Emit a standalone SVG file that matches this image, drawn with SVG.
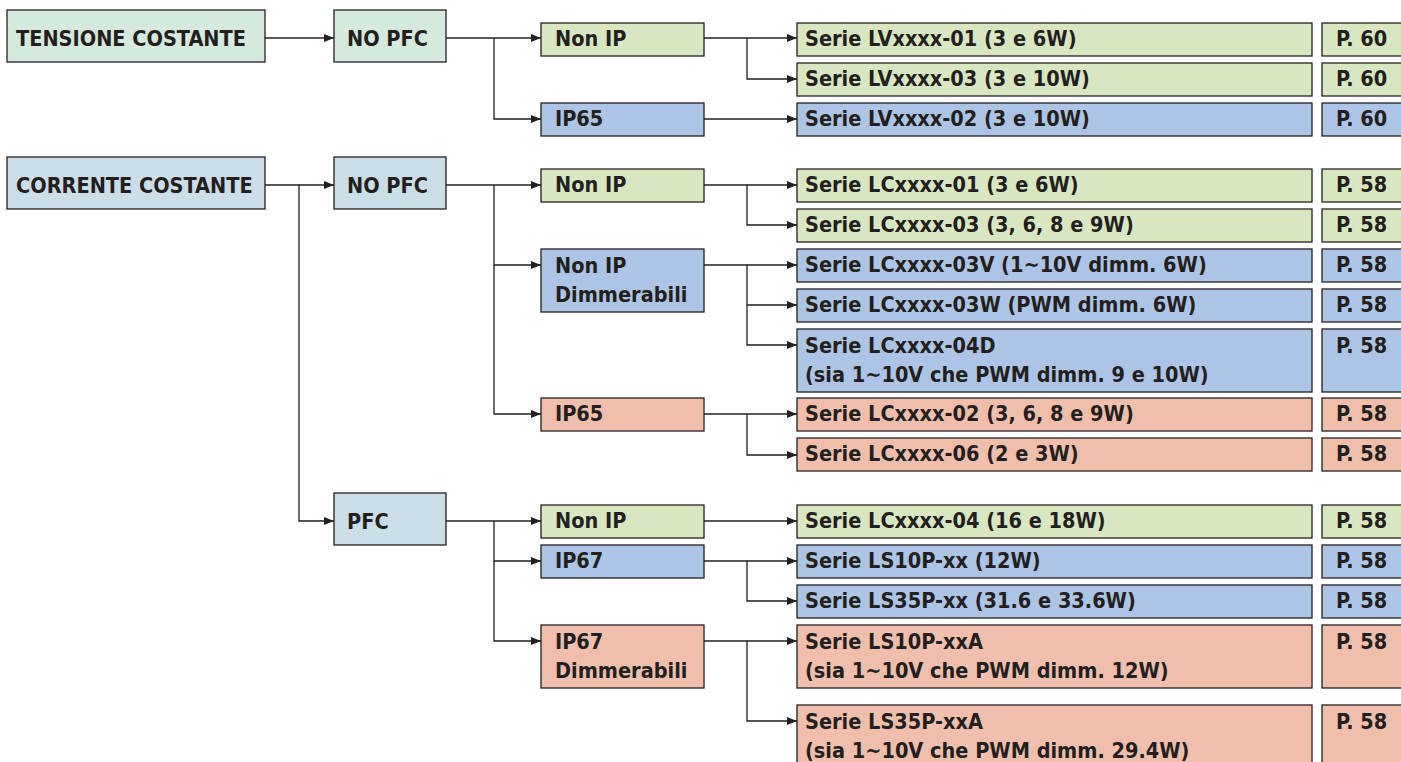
<svg xmlns="http://www.w3.org/2000/svg" width="1401" height="762" viewBox="0 0 1401 762">
<style>
text{font-family:'DejaVu Sans Condensed','DejaVu Sans',sans-serif;font-stretch:condensed;font-weight:bold;font-size:21.5px;fill:#231f20}
.n rect{stroke:#231f20;stroke-width:1.3}
.mint{fill:#d5eadc}.gray{fill:#cbdde6}.grn{fill:#d9e7c0}.blu{fill:#adc5e5}.sal{fill:#f0bfab}
.c path{fill:none;stroke:#231f20;stroke-width:1.3}
</style>
<defs><marker id="ah" viewBox="0 0 10 8" refX="10" refY="4" markerWidth="10" markerHeight="8" markerUnits="userSpaceOnUse" orient="auto" preserveAspectRatio="none"><path d="M0,0 L10,4 L0,8 Z" fill="#231f20"/></marker></defs>
<rect width="1401" height="762" fill="#fff"/>
<g class="c" id="connectors">
<path d="M265,38 H334" marker-end="url(#ah)"/>
<path d="M446,38 H541" marker-end="url(#ah)"/>
<path d="M494,38 V119 H541" marker-end="url(#ah)"/>
<path d="M704,38 H797" marker-end="url(#ah)"/>
<path d="M747,38 V79 H797" marker-end="url(#ah)"/>
<path d="M704,119 H797" marker-end="url(#ah)"/>
<path d="M265,185 H334" marker-end="url(#ah)"/>
<path d="M299,185 V521 H334" marker-end="url(#ah)"/>
<path d="M446,185 H541" marker-end="url(#ah)"/>
<path d="M494,185 V265 H541" marker-end="url(#ah)"/>
<path d="M494,265 V414 H541" marker-end="url(#ah)"/>
<path d="M704,185 H797" marker-end="url(#ah)"/>
<path d="M747,185 V225 H797" marker-end="url(#ah)"/>
<path d="M704,265 H797" marker-end="url(#ah)"/>
<path d="M747,265 V305 H797" marker-end="url(#ah)"/>
<path d="M747,305 V345 H797" marker-end="url(#ah)"/>
<path d="M704,414 H797" marker-end="url(#ah)"/>
<path d="M747,414 V455 H797" marker-end="url(#ah)"/>
<path d="M446,521 H541" marker-end="url(#ah)"/>
<path d="M494,521 V561 H541" marker-end="url(#ah)"/>
<path d="M494,561 V641 H541" marker-end="url(#ah)"/>
<path d="M704,521 H797" marker-end="url(#ah)"/>
<path d="M704,561 H797" marker-end="url(#ah)"/>
<path d="M747,561 V601 H797" marker-end="url(#ah)"/>
<path d="M704,641 H797" marker-end="url(#ah)"/>
<path d="M747,641 V721 H797" marker-end="url(#ah)"/>
</g>
<g class="n" id="tensione"><rect class="mint" x="7" y="10" width="258" height="52"/><text x="16" y="46">TENSIONE COSTANTE</text></g>
<g class="n" id="nopfc1"><rect class="mint" x="334" y="10" width="112" height="52"/><text x="347" y="46">NO PFC</text></g>
<g class="n" id="corrente"><rect class="gray" x="7" y="157" width="258" height="52"/><text x="16" y="193">CORRENTE COSTANTE</text></g>
<g class="n" id="nopfc2"><rect class="gray" x="334" y="157" width="112" height="52"/><text x="347" y="193">NO PFC</text></g>
<g class="n" id="pfc"><rect class="gray" x="334" y="493" width="112" height="52"/><text x="347" y="529">PFC</text></g>

<g class="n" id="nonip1"><rect class="grn" x="541" y="23" width="163" height="33"/><text x="555" y="46">Non IP</text></g>
<g class="n" id="ip65a"><rect class="blu" x="541" y="103" width="163" height="33"/><text x="555" y="126">IP65</text></g>
<g class="n" id="nonip2"><rect class="grn" x="541" y="169" width="163" height="33"/><text x="555" y="192">Non IP</text></g>
<g class="n" id="nonipdimm"><rect class="blu" x="541" y="249" width="163" height="63"/><text x="555" y="273">Non IP</text><text x="555" y="302">Dimmerabili</text></g>
<g class="n" id="ip65b"><rect class="sal" x="541" y="398" width="163" height="33"/><text x="555" y="421">IP65</text></g>
<g class="n" id="nonip3"><rect class="grn" x="541" y="505" width="163" height="33"/><text x="555" y="528">Non IP</text></g>
<g class="n" id="ip67"><rect class="blu" x="541" y="545" width="163" height="33"/><text x="555" y="568">IP67</text></g>
<g class="n" id="ip67dimm"><rect class="sal" x="541" y="625" width="163" height="63"/><text x="555" y="649">IP67</text><text x="555" y="678">Dimmerabili</text></g>

<g class="n" id="lv01"><rect class="grn" x="797" y="23" width="515" height="33"/><text x="805" y="46">Serie LVxxxx-01 (3 e 6W)</text><rect class="grn" x="1322" y="23" width="100" height="33"/><text x="1336" y="46">P. 60</text></g>
<g class="n" id="lv03"><rect class="grn" x="797" y="63" width="515" height="33"/><text x="805" y="86">Serie LVxxxx-03 (3 e 10W)</text><rect class="grn" x="1322" y="63" width="100" height="33"/><text x="1336" y="86">P. 60</text></g>
<g class="n" id="lv02"><rect class="blu" x="797" y="103" width="515" height="33"/><text x="805" y="126">Serie LVxxxx-02 (3 e 10W)</text><rect class="blu" x="1322" y="103" width="100" height="33"/><text x="1336" y="126">P. 60</text></g>
<g class="n" id="lc01"><rect class="grn" x="797" y="169" width="515" height="33"/><text x="805" y="192">Serie LCxxxx-01 (3 e 6W)</text><rect class="grn" x="1322" y="169" width="100" height="33"/><text x="1336" y="192">P. 58</text></g>
<g class="n" id="lc03"><rect class="grn" x="797" y="209" width="515" height="33"/><text x="805" y="232">Serie LCxxxx-03 (3, 6, 8 e 9W)</text><rect class="grn" x="1322" y="209" width="100" height="33"/><text x="1336" y="232">P. 58</text></g>
<g class="n" id="lc03v"><rect class="blu" x="797" y="249" width="515" height="33"/><text x="805" y="272">Serie LCxxxx-03V (1~10V dimm. 6W)</text><rect class="blu" x="1322" y="249" width="100" height="33"/><text x="1336" y="272">P. 58</text></g>
<g class="n" id="lc03w"><rect class="blu" x="797" y="289" width="515" height="33"/><text x="805" y="312">Serie LCxxxx-03W (PWM dimm. 6W)</text><rect class="blu" x="1322" y="289" width="100" height="33"/><text x="1336" y="312">P. 58</text></g>
<g class="n" id="lc04d"><rect class="blu" x="797" y="329" width="515" height="63"/><text x="805" y="353">Serie LCxxxx-04D</text><text x="805" y="382">(sia 1~10V che PWM dimm. 9 e 10W)</text><rect class="blu" x="1322" y="329" width="100" height="63"/><text x="1336" y="353">P. 58</text></g>
<g class="n" id="lc02"><rect class="sal" x="797" y="398" width="515" height="33"/><text x="805" y="421">Serie LCxxxx-02 (3, 6, 8 e 9W)</text><rect class="sal" x="1322" y="398" width="100" height="33"/><text x="1336" y="421">P. 58</text></g>
<g class="n" id="lc06"><rect class="sal" x="797" y="438" width="515" height="33"/><text x="805" y="461">Serie LCxxxx-06 (2 e 3W)</text><rect class="sal" x="1322" y="438" width="100" height="33"/><text x="1336" y="461">P. 58</text></g>
<g class="n" id="lc04"><rect class="grn" x="797" y="505" width="515" height="33"/><text x="805" y="528">Serie LCxxxx-04 (16 e 18W)</text><rect class="grn" x="1322" y="505" width="100" height="33"/><text x="1336" y="528">P. 58</text></g>
<g class="n" id="ls10p"><rect class="blu" x="797" y="545" width="515" height="33"/><text x="805" y="568">Serie LS10P-xx (12W)</text><rect class="blu" x="1322" y="545" width="100" height="33"/><text x="1336" y="568">P. 58</text></g>
<g class="n" id="ls35p"><rect class="blu" x="797" y="585" width="515" height="33"/><text x="805" y="608">Serie LS35P-xx (31.6 e 33.6W)</text><rect class="blu" x="1322" y="585" width="100" height="33"/><text x="1336" y="608">P. 58</text></g>
<g class="n" id="ls10pa"><rect class="sal" x="797" y="625" width="515" height="63"/><text x="805" y="649">Serie LS10P-xxA</text><text x="805" y="678">(sia 1~10V che PWM dimm. 12W)</text><rect class="sal" x="1322" y="625" width="100" height="63"/><text x="1336" y="649">P. 58</text></g>
<g class="n" id="ls35pa"><rect class="sal" x="797" y="705" width="515" height="63"/><text x="805" y="729">Serie LS35P-xxA</text><text x="805" y="758">(sia 1~10V che PWM dimm. 29.4W)</text><rect class="sal" x="1322" y="705" width="100" height="63"/><text x="1336" y="729">P. 58</text></g>
</svg>
